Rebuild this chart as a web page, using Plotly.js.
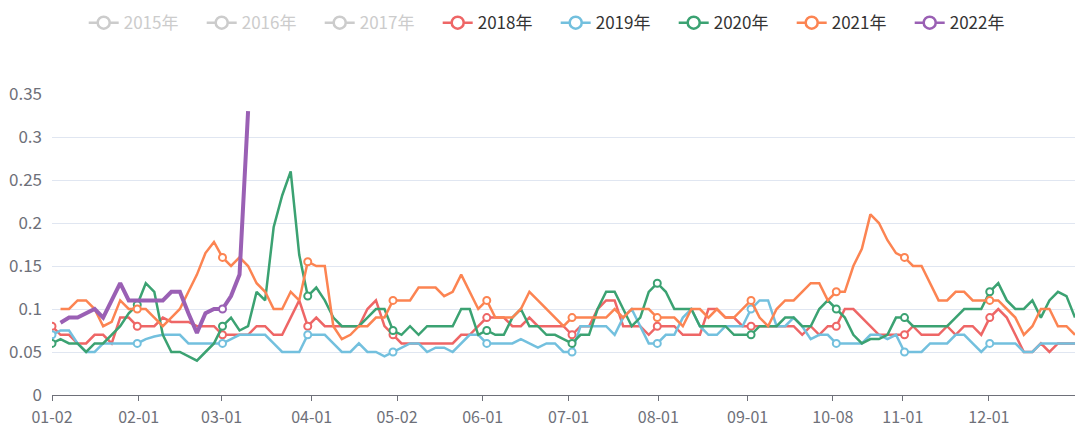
<!DOCTYPE html>
<html>
<head>
<meta charset="utf-8">
<script src="https://cdn.plot.ly/plotly-3.0.1.min.js"></script>
<style>html,body{margin:0;padding:0;background:#fff;}#chart{width:1080px;height:427px;}</style>
</head>
<body>
<div id="chart"></div>
<script>
// x-axis tick labels (category dates) and their positions on the category index scale
const tickLabels = ['01-02','02-01','03-01','04-01','05-02','06-01','07-01','08-01','09-01','10-08','11-01','12-01'];
const tickPos = [0, 10.17, 19.9, 30.46, 40.47, 50.52, 60.6, 71.12, 81.6, 91.6, 99.8, 109.9];

const hiddenYears = ['2015年','2016年','2017年'];

const s2018 = [
0.08,0.07,0.07,0.06,0.06,0.07,0.07,0.06,0.09,0.09,
0.08,0.08,0.08,0.09,0.085,0.085,0.085,0.08,0.08,0.08,
0.07,0.07,0.07,0.07,0.08,0.08,0.07,0.07,0.09,0.11,
0.08,0.09,0.08,0.08,0.08,0.08,0.08,0.10,0.11,0.08,
0.07,0.06,0.06,0.06,0.06,0.06,0.06,0.06,0.07,0.07,
0.08,0.09,0.09,0.09,0.08,0.08,0.09,0.08,0.08,0.08,
0.08,0.07,0.08,0.08,0.10,0.11,0.11,0.08,0.08,0.08,
0.07,0.08,0.08,0.08,0.07,0.07,0.07,0.10,0.10,0.09,
0.09,0.08,0.08,0.08,0.08,0.08,0.08,0.08,0.07,0.08,
0.07,0.08,0.08,0.10,0.10,0.09,0.08,0.07,0.07,0.07,
0.07,0.08,0.07,0.07,0.07,0.08,0.07,0.08,0.08,0.07,
0.09,0.10,0.09,0.07,0.05,0.05,0.06,0.05,0.06,0.06,
0.06];

const s2019 = [
0.07,0.075,0.075,0.06,0.05,0.05,0.06,0.06,0.06,0.06,
0.06,0.065,0.068,0.07,0.07,0.07,0.06,0.06,0.06,0.06,
0.06,0.065,0.07,0.07,0.07,0.07,0.06,0.05,0.05,0.05,
0.07,0.07,0.07,0.06,0.05,0.05,0.06,0.05,0.05,0.045,
0.05,0.055,0.06,0.06,0.05,0.055,0.055,0.05,0.06,0.07,
0.07,0.06,0.06,0.06,0.06,0.065,0.06,0.055,0.06,0.06,
0.05,0.05,0.08,0.08,0.08,0.08,0.07,0.09,0.10,0.08,
0.06,0.06,0.07,0.07,0.09,0.10,0.08,0.07,0.07,0.08,
0.08,0.08,0.10,0.11,0.11,0.08,0.08,0.09,0.08,0.065,
0.07,0.07,0.06,0.06,0.06,0.06,0.07,0.07,0.065,0.07,
0.05,0.05,0.05,0.06,0.06,0.06,0.07,0.07,0.06,0.05,
0.06,0.06,0.06,0.06,0.05,0.05,0.06,0.06,0.06,0.06,
0.06];

const s2020 = [
0.06,0.065,0.06,0.06,0.05,0.06,0.06,0.07,0.08,0.095,
0.105,0.13,0.12,0.07,0.05,0.05,0.045,0.04,0.05,0.06,
0.08,0.09,0.075,0.08,0.12,0.11,0.195,0.232,0.26,0.163,
0.115,0.125,0.11,0.09,0.08,0.08,0.08,0.09,0.10,0.10,
0.075,0.07,0.08,0.07,0.08,0.08,0.08,0.08,0.10,0.10,
0.07,0.075,0.07,0.07,0.09,0.10,0.08,0.08,0.07,0.07,
0.065,0.06,0.07,0.07,0.10,0.12,0.12,0.10,0.08,0.09,
0.12,0.13,0.12,0.10,0.10,0.10,0.08,0.08,0.08,0.08,
0.07,0.07,0.07,0.08,0.08,0.08,0.09,0.09,0.08,0.08,
0.10,0.11,0.10,0.09,0.07,0.06,0.065,0.065,0.07,0.09,
0.09,0.08,0.08,0.08,0.08,0.08,0.09,0.10,0.10,0.10,
0.12,0.13,0.11,0.10,0.10,0.11,0.09,0.11,0.12,0.115,
0.09];

const s2021 = [
null,0.10,0.10,0.11,0.11,0.10,0.08,0.085,0.11,0.10,
0.10,0.10,0.09,0.08,0.09,0.10,0.12,0.14,0.165,0.178,
0.16,0.15,0.16,0.15,0.13,0.12,0.10,0.10,0.12,0.11,
0.155,0.15,0.15,0.08,0.065,0.07,0.08,0.08,0.09,0.09,
0.11,0.11,0.11,0.125,0.125,0.125,0.115,0.12,0.14,0.12,
0.10,0.11,0.09,0.09,0.09,0.10,0.12,0.11,0.10,0.09,
0.08,0.09,0.09,0.09,0.09,0.09,0.10,0.09,0.10,0.10,
0.10,0.09,0.09,0.09,0.08,0.10,0.10,0.09,0.10,0.09,
0.09,0.10,0.11,0.09,0.08,0.10,0.11,0.11,0.12,0.13,
0.13,0.11,0.12,0.12,0.15,0.17,0.21,0.20,0.18,0.165,
0.16,0.15,0.15,0.13,0.11,0.11,0.12,0.12,0.11,0.11,
0.11,0.11,0.10,0.09,0.07,0.08,0.10,0.10,0.08,0.08,
0.07];

const s2022 = [
null,0.084,0.09,0.09,0.095,0.10,0.09,0.11,0.13,0.11,
0.11,0.11,0.11,0.11,0.12,0.12,0.095,0.072,0.095,0.10,
0.10,0.115,0.14,0.33];

const series = [
  {name:'2018年', y:s2018, color:'#ee6666', width:2.5, noMark:[]},
  {name:'2019年', y:s2019, color:'#73c0de', width:2.5, noMark:[]},
  {name:'2020年', y:s2020, color:'#3ba272', width:2.5, noMark:[]},
  {name:'2021年', y:s2021, color:'#fc8452', width:2.5, noMark:[]},
  {name:'2022年', y:s2022, color:'#9a60b4', width:4, noMark:[10]}
];

const markIdx = tickPos.map(Math.round);
const traces = [];

// greyed-out legend entries (series switched off)
hiddenYears.forEach(n => {
  traces.push({
    type:'scatter', mode:'lines+markers', x:[null], y:[null],
    name:'<span style="color:#cccccc">' + n + '</span>',
    line:{color:'#cccccc', width:2.5},
    marker:{symbol:'circle', size:12, color:'#ffffff', line:{color:'#cccccc', width:2.5}},
    hoverinfo:'skip'
  });
});

series.forEach(s => {
  // legend entry
  traces.push({
    type:'scatter', mode:'lines+markers', x:[null], y:[null],
    name:s.name, legendgroup:s.name,
    line:{color:s.color, width:2.5},
    marker:{symbol:'circle', size:12, color:'#ffffff', line:{color:s.color, width:2.5}},
    hoverinfo:'skip'
  });
  const xs = s.y.map((v, i) => i);
  const sel = markIdx.filter(i => i < s.y.length && s.y[i] !== null && s.noMark.indexOf(i) < 0);
  traces.push({
    type:'scatter', mode:'lines+markers', x:xs, y:s.y,
    name:s.name, legendgroup:s.name, showlegend:false,
    line:{color:s.color, width:s.width},
    marker:{symbol:'circle', size:7, color:'#ffffff', line:{color:s.color, width:2}},
    selectedpoints:sel,
    selected:{marker:{opacity:1}},
    unselected:{marker:{opacity:0}}
  });
});

const fam = '"Noto Sans CJK SC", "Noto Sans", sans-serif';
const xFont = {family:fam, size:16, color:'#6E7079'};
const yFont = {family:fam, size:17, color:'#6E7079'};

const layout = {
  width:1080, height:427,
  margin:{l:52, r:5, t:94, b:32, pad:0},
  paper_bgcolor:'#ffffff', plot_bgcolor:'#ffffff',
  font:xFont,
  showlegend:true,
  legend:{
    orientation:'h', xref:'container', yref:'container',
    x:0.0775, y:0.988, xanchor:'left', yanchor:'top',
    entrywidth:73, traceorder:'normal',
    font:{family:fam, size:17, color:'#333333'},
    bgcolor:'rgba(0,0,0,0)', itemclick:false, itemdoubleclick:false
  },
  xaxis:{
    range:[0,120], tickmode:'array', tickvals:tickPos, ticktext:tickLabels,
    showgrid:false, zeroline:false, showline:true, linecolor:'#6E7079', linewidth:1,
    ticks:'outside', ticklen:5, tickcolor:'#6E7079', tickwidth:1,
    ticklabelstandoff:3, tickfont:xFont, fixedrange:true
  },
  yaxis:{
    range:[0,0.35], tick0:0, dtick:0.05,
    showgrid:true, gridcolor:'#E0E6F1', gridwidth:1, zeroline:false, showline:false,
    ticks:'', ticklabelstandoff:9, tickfont:yFont, fixedrange:true
  }
};

Plotly.newPlot('chart', traces, layout, {displayModeBar:false, staticPlot:true});
</script>
</body>
</html>
